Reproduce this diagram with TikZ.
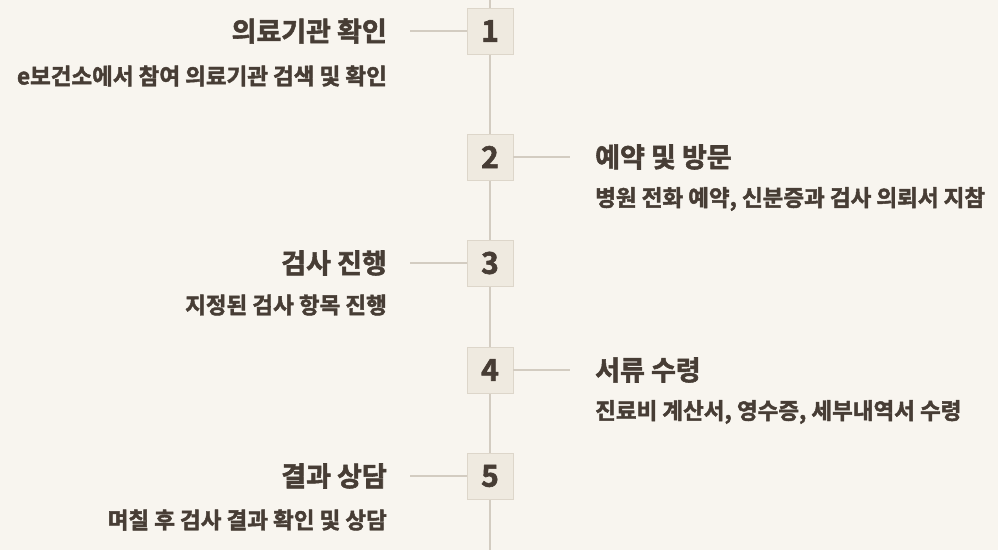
\documentclass[tikz,border=0pt]{standalone}
\usepackage{fontspec}
\setmainfont{Noto Sans CJK KR}[BoldFont={Noto Sans CJK KR Bold},BoldFeatures={FakeBold=2}]
\definecolor{bg}{HTML}{F8F5EF}
\definecolor{boxf}{HTML}{EFEAE0}
\definecolor{boxd}{HTML}{DDD6CA}
\definecolor{ln}{HTML}{D3CCC1}
\definecolor{tx}{HTML}{473D35}
\tikzset{
 numbox/.style={draw=boxd,fill=boxf,minimum size=46pt,inner sep=0pt,text=tx,font=\fontsize{30}{30}\selectfont\bfseries},
 ttl/.style={text=tx,font=\fontsize{27}{28}\selectfont\bfseries,inner sep=0pt},
 sub/.style={text=tx,font=\fontsize{22.5}{24}\selectfont\bfseries,inner sep=0pt},
 conn/.style={ln,line width=2.5pt}
}
\begin{document}
\begin{tikzpicture}[x=1pt,y=1pt]
\fill[bg] (0,0) rectangle (998,550);
\useasboundingbox (0,0) rectangle (998,550);
\coordinate (top) at (490,550);
\coordinate (bot) at (490,0);
\draw[ln,line width=2.5pt] (top) -- (bot);
% 1
\node[numbox] (n1) at (490,519) {1};
\coordinate (c1) at (410,519);
\draw[conn] (c1) -- (n1.west);
\node[ttl,anchor=east] (t1) at (387,519) {의료기관 확인};
\node[sub,anchor=east] (s1) at (387,474) {e보건소에서 참여 의료기관 검색 및 확인};
% 2
\node[numbox] (n2) at (490,393) {2};
\coordinate (c2) at (570,393);
\draw[conn] (n2.east) -- (c2);
\node[ttl,anchor=west] (t2) at (595,393) {예약 및 방문};
\node[sub,anchor=west] (s2) at (595,351) {병원 전화 예약, 신분증과 검사 의뢰서 지참};
% 3
\node[numbox] (n3) at (490,287) {3};
\coordinate (c3) at (410,287);
\draw[conn] (c3) -- (n3.west);
\node[ttl,anchor=east] (t3) at (387,287) {검사 진행};
\node[sub,anchor=east] (s3) at (387,245) {지정된 검사 항목 진행};
% 4
\node[numbox] (n4) at (490,180) {4};
\coordinate (c4) at (570,180);
\draw[conn] (n4.east) -- (c4);
\node[ttl,anchor=west] (t4) at (595,180) {서류 수령};
\node[sub,anchor=west] (s4) at (595,138) {진료비 계산서, 영수증, 세부내역서 수령};
% 5
\node[numbox] (n5) at (490,74) {5};
\coordinate (c5) at (410,74);
\draw[conn] (c5) -- (n5.west);
\node[ttl,anchor=east] (t5) at (387,74) {결과 상담};
\node[sub,anchor=east] (s5) at (387,30) {며칠 후 검사 결과 확인 및 상담};
\end{tikzpicture}
\end{document}
